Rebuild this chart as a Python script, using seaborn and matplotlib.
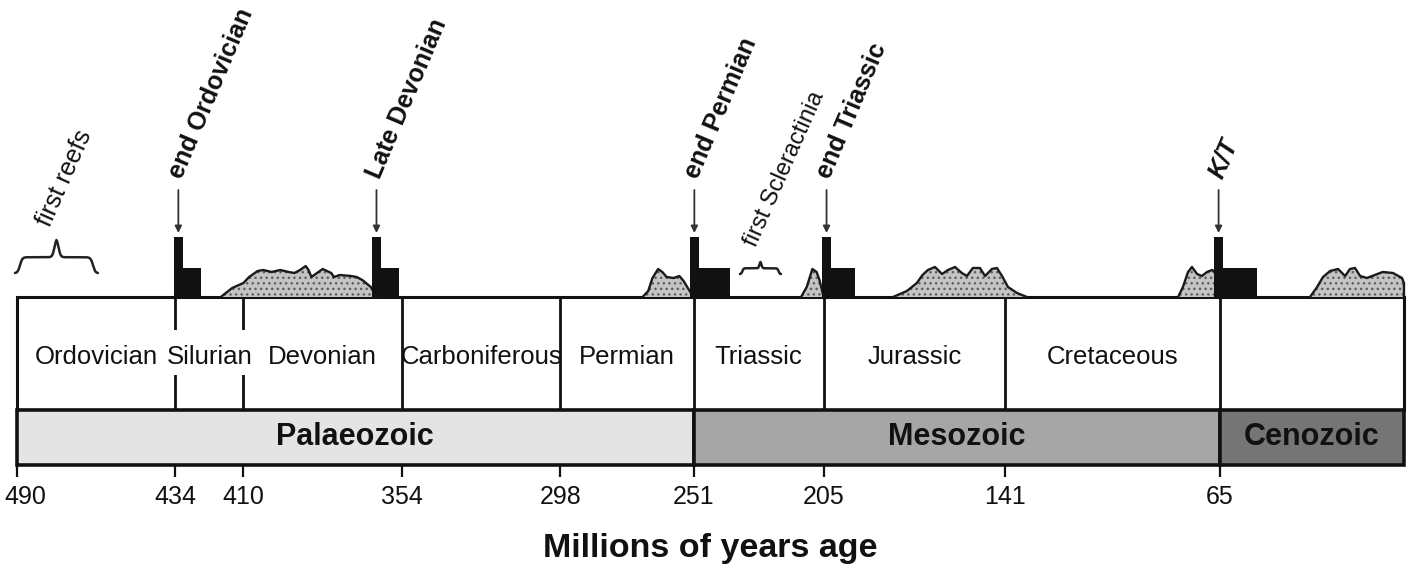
import numpy as np
import pandas as pd
import matplotlib.pyplot as plt
import seaborn as sns
from matplotlib.patches import Rectangle

sns.set_theme(style="white")
plt.rcParams['font.family'] = ['Liberation Sans', 'DejaVu Sans']
plt.rcParams['hatch.linewidth'] = 1.0

# time scale (Ma)
tick_ages = [490, 434, 410, 354, 298, 251, 205, 141, 65]
period_names = ['Ordovician', 'Silurian', 'Devonian', 'Carboniferous', 'Permian',
                'Triassic', 'Jurassic', 'Cretaceous', '']
period_start = [490, 434, 410, 354, 298, 251, 205, 141, 65]
period_end = [434, 410, 354, 298, 251, 205, 141, 65, 0]
era_names = ['Palaeozoic', 'Mesozoic', 'Cenozoic']
era_start = [490, 251, 65]
era_end = [251, 65, 0]
era_colors = ['#e4e4e4', '#a6a6a6', '#757575']

# mass extinctions: spike + tail
event_names = ['end Ordovician', 'Late Devonian', 'end Permian', 'end Triassic', 'K/T']
event_ages = [433, 363, 250.7, 204, 65.5]
event_peak = [60, 60, 60, 60, 60]
event_tail_end = [425, 355, 238, 194, 52]
event_tail = [29, 29, 29, 29, 29]

# reef episodes (age, relative extent)
reef1_age = [418, 414, 410, 408, 405, 403, 400, 397, 394, 392, 390, 388, 387, 386,
             384, 382, 379, 378, 376, 372, 370, 368, 365, 363]
reef1_h = [0, 9, 14, 20, 26, 27, 25, 27, 25, 24, 27, 31, 27, 20, 24, 28, 24, 20, 22,
           21, 20, 17, 10, 0]
reef2_age = [269, 267, 265.5, 263.5, 262, 260.5, 258, 256, 254.5, 253, 251]
reef2_h = [0, 6, 19, 28, 25, 20, 19, 21, 16, 9, 0]
reef3_age = [213, 211, 210, 209, 207.5, 206.5, 205]
reef3_h = [0, 10, 19, 28, 25, 17, 0]
reef4_age = [180.5, 175.6, 172.1, 170.1, 168.2, 165.7, 163.2, 161.1, 158.6, 156.2,
             154.4, 152.3, 149.8, 148, 145.6, 143.8, 142, 139.9, 136.7, 133.2]
reef4_h = [0, 6, 14, 22, 27, 30, 23, 27, 30, 24, 21, 29, 29, 21, 28, 29, 21, 10, 4, 0]
reef5_age = [79.8, 78.1, 76.3, 74.9, 73.1, 71.4, 69.6, 67.8, 66.8, 65]
reef5_h = [0, 10, 25, 30, 23, 21, 25, 27, 25, 0]
reef6_age = [33.2, 30.7, 28.6, 26.1, 23.3, 20.8, 19.1, 17.3, 15.5, 13.1, 10.3, 7.5,
             3.9, 0.7, 0, 0]
reef6_h = [0, 10, 20, 26, 28, 21, 28, 29, 21, 19, 22, 25, 24, 19, 14, 0]
reefs = [(reef1_age, reef1_h), (reef2_age, reef2_h), (reef3_age, reef3_h),
         (reef4_age, reef4_h), (reef5_age, reef5_h), (reef6_age, reef6_h)]

fig = plt.figure(figsize=(14.12, 5.79), dpi=100)
ax = fig.add_axes([0, 0, 1, 1])
ax.set_xlim(496.0, -2.83)
ax.set_ylim(-282, 297)
ax.axis('off')

# reefs
for ages, hs in reefs:
    df = pd.DataFrame({'age': ages, 'h': hs})
    ax.fill_between(df['age'], 0, df['h'], facecolor='#c4c4c4', edgecolor='#5e5e5e',
                    hatch='...', linewidth=0, zorder=2)
    sns.lineplot(data=df, x='age', y='h', sort=False, estimator=None, color='#1a1a1a',
                 lw=1.7, ax=ax, zorder=3)

# extinction bars
for age, pk, tend, tl in zip(event_ages, event_peak, event_tail_end, event_tail):
    ax.add_patch(Rectangle((age + 1.5, 0), -3.2, pk, color='#111111', lw=0, zorder=4))
    ax.add_patch(Rectangle((age - 1.7, 0), tend - (age - 1.7), tl, color='#111111',
                           lw=0, zorder=4))

# arrows + labels
for name, age in zip(event_names, event_ages):
    ax.annotate('', xy=(age, 64), xytext=(age, 107),
                arrowprops=dict(arrowstyle='-|>', color='#333333', lw=1.3,
                                mutation_scale=10, shrinkA=0, shrinkB=0))
    ax.text(age - 1.2, 117, name, rotation=67, rotation_mode='anchor', ha='left',
            va='baseline', fontsize=18, fontweight='bold',
            style='italic' if name == 'K/T' else 'normal', color='#111111')


def brace(x0, x1, y0, h):
    t = np.linspace(0, 1, 120)
    sig = lambda u: 1 / (1 + np.exp(-u))
    half = 0.45 * sig(35 * (t - 0.12)) + 0.55 * sig(40 * (t - 0.95))
    half = (half - half[0]) / (half[-1] - half[0])
    xs = np.concatenate([x0 + (x1 - x0) * t / 2, x0 + (x1 - x0) * (0.5 + t / 2)])
    ys = y0 + h * np.concatenate([half, half[::-1]])
    ax.plot(xs, ys, color='#222222', lw=1.8, zorder=3)


brace(490.7, 461.4, 24, 33)
brace(234.6, 220.1, 23, 12)
ax.text(478.5, 69, 'first reefs', rotation=66, rotation_mode='anchor', ha='left',
        va='baseline', fontsize=18, color='#111111')
ax.text(229.0, 49, 'first Scleractinia', rotation=66, rotation_mode='anchor',
        ha='left', va='baseline', fontsize=17, color='#111111')

# period box
ax.add_patch(Rectangle((490, -113), -490, 113, facecolor='white', edgecolor='#111111',
                       lw=2.2, zorder=1))
ax.vlines(period_start[1:], -113, 0, color='#111111', lw=2, zorder=1)
ax.add_patch(Rectangle((437, -78), -30, 45, facecolor='white', lw=0, zorder=1.5))
for name, s, e in zip(period_names, period_start, period_end):
    ax.text((s + e) / 2, -60, name, ha='center', va='center', fontsize=18.5,
            color='#111111', zorder=5)

# era box
for name, s, e, c in zip(era_names, era_start, era_end, era_colors):
    ax.add_patch(Rectangle((s, -168), e - s, 55, facecolor=c, edgecolor='#111111',
                           lw=2.6, zorder=1))
    ax.text((s + e) / 2, -140, name, ha='center', va='center', fontsize=22,
            fontweight='bold', color='#111111', zorder=5)

# ticks
ax.vlines(tick_ages, -180, -168, color='#111111', lw=1.6)
for a in tick_ages:
    ax.text(a, -200, str(a), ha='center', va='center', fontsize=18, color='#111111')
ax.texts[-len(tick_ages)].set_x(494.5)
ax.texts[-len(tick_ages)].set_ha('left')
ax.text(245, -251, 'Millions of years age', ha='center', va='center', fontsize=24.5,
        fontweight='bold', color='#111111')

fig.savefig('out.png', dpi=100)
